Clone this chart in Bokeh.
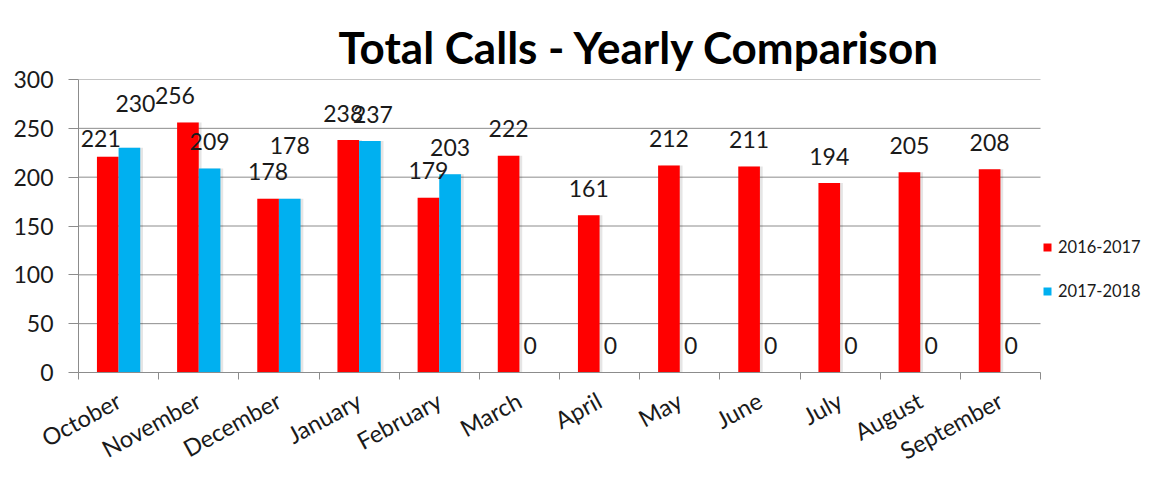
from bokeh.plotting import figure
from bokeh.models import (Range1d, LinearAxis, FixedTicker,
                          ColumnDataSource, Legend, LegendItem)
from bokeh.core.properties import value
from bokeh.embed import file_html
from bokeh.resources import INLINE

# ---- data ----
months = ["October", "November", "December", "January", "February", "March",
          "April", "May", "June", "July", "August", "September"]
calls_2016_2017 = [221, 256, 178, 238, 179, 222, 161, 212, 211, 194, 205, 208]
calls_2017_2018 = [230, 209, 178, 237, 203, 0, 0, 0, 0, 0, 0, 0]
series_names = ["2016-2017", "2017-2018"]
y_ticks = [0, 50, 100, 150, 200, 250, 300]

# ---- style / layout ----
FONT = "Lato"
RED = "#FF0000"
BLUE = "#00B0F0"
GRID = "#8c8c8c"
TXT = "#1a1a1a"
BW = 0.27
OFF = 0.135
SHADOW = 0.035
LABEL_RAISE = -27
W, H = 1148, 479
LEFT, TOP, BOTTOM = 78, 79, 106
DATA_W = 962                      # pixel width of the category area
# small manual nudges of overlapping data labels (pixels): (series, index) -> (dx, dy)
nudges = {("a", 0): (-7, 9), ("a", 1): (-13, 0), ("a", 3): (-5, 0),
          ("b", 0): (6, -17), ("b", 2): (0, -26), ("b", 3): (3, 0)}

n = len(months)
x_end = n * (W - LEFT) / DATA_W   # frame extends right to host the legend
centers = [i + 0.5 for i in range(n)]
src = ColumnDataSource(dict(
    xa=[c - OFF for c in centers],
    xb=[c + OFF for c in centers],
    sa=[c - OFF + SHADOW for c in centers],
    sb=[c + OFF + SHADOW for c in centers],
    a=calls_2016_2017,
    b=calls_2017_2018,
    a_lab=[str(v) for v in calls_2016_2017],
    b_lab=[str(v) for v in calls_2017_2018],
    a_dx=[nudges.get(("a", i), (0, 0))[0] for i in range(n)],
    a_dy=[LABEL_RAISE + nudges.get(("a", i), (0, 0))[1] for i in range(n)],
    b_dx=[nudges.get(("b", i), (0, 0))[0] for i in range(n)],
    b_dy=[LABEL_RAISE + nudges.get(("b", i), (0, 0))[1] for i in range(n)],
))

p = figure(x_range=Range1d(0, x_end), y_range=Range1d(0, 300),
           width=W, height=H, output_backend="svg", toolbar_location=None,
           x_axis_type=None, title="Total Calls - Yearly Comparison")
p.min_border_left = LEFT
p.min_border_right = 0
p.min_border_top = TOP
p.min_border_bottom = BOTTOM
p.outline_line_color = None
p.background_fill_color = "white"
p.border_fill_color = "white"

# title
p.title.text_font = FONT
p.title.text_font_style = "bold"
p.title.text_font_size = "44px"
p.title.text_color = "#000000"
p.title.align = "left"
p.title.offset = 260
p.title.standoff = 13

# y axis
yax = p.yaxis[0]
yax.ticker = FixedTicker(ticks=y_ticks)
yax.major_tick_out = 10
yax.major_tick_in = 0
yax.minor_tick_line_color = None
yax.axis_line_color = GRID
yax.major_tick_line_color = GRID
yax.major_label_text_font = FONT
yax.major_label_text_font_size = "23px"
yax.major_label_text_color = TXT
yax.major_label_standoff = 15
p.ygrid.grid_line_color = None
p.xgrid.grid_line_color = None

# horizontal gridlines limited to the category area
p.segment(x0=[0] * len(y_ticks), x1=[n] * len(y_ticks), y0=y_ticks, y1=y_ticks,
          line_color=GRID, line_width=1)

# x axis: boundary tick marks + category labels
edge_axis = LinearAxis(ticker=FixedTicker(ticks=list(range(n + 1))), bounds=(0, n),
                       major_label_text_font_size="1px", major_label_text_alpha=0,
                       axis_line_color=GRID,
                       major_tick_line_color=GRID, major_tick_out=7, major_tick_in=0,
                       minor_tick_line_color=None, major_label_standoff=0)
cat_axis = LinearAxis(ticker=FixedTicker(ticks=centers), bounds=(0, n),
                      major_label_overrides={c: m for c, m in zip(centers, months)},
                      major_tick_line_color=None, axis_line_color=None,
                      minor_tick_line_color=None,
                      major_label_orientation=0.5, major_label_text_font=FONT,
                      major_label_text_font_size="23.5px", major_label_text_color=TXT,
                      major_label_standoff=13)
p.add_layout(edge_axis, "below")
p.add_layout(cat_axis, "below")

# bar shadows
for col in ("a", "b"):
    p.vbar(x="s" + col, top=col, width=BW, source=src,
           fill_color="#000000", fill_alpha=0.10, line_color=None)

r1 = p.vbar(x="xa", top="a", width=BW, source=src, fill_color=RED, line_color=None)
r2 = p.vbar(x="xb", top="b", width=BW, source=src, fill_color=BLUE, line_color=None)

for col in ("a", "b"):
    p.text(x="x" + col, y=col, text=col + "_lab", source=src,
           x_offset=col + "_dx", y_offset=col + "_dy",
           text_align="center", text_baseline="middle",
           text_font=value(FONT), text_font_size="23px", text_color=TXT)

legend = Legend(items=[LegendItem(label=series_names[0], renderers=[r1]),
                       LegendItem(label=series_names[1], renderers=[r2])],
                location=(DATA_W + 2, 71), orientation="vertical",
                glyph_width=10, glyph_height=10, label_height=20, spacing=24,
                padding=0, margin=0, label_standoff=6,
                label_text_font=FONT, label_text_font_size="16.5px", label_text_color=TXT,
                border_line_color=None, background_fill_alpha=0)
p.add_layout(legend)

open("out.html", "w").write(file_html(p, INLINE))
